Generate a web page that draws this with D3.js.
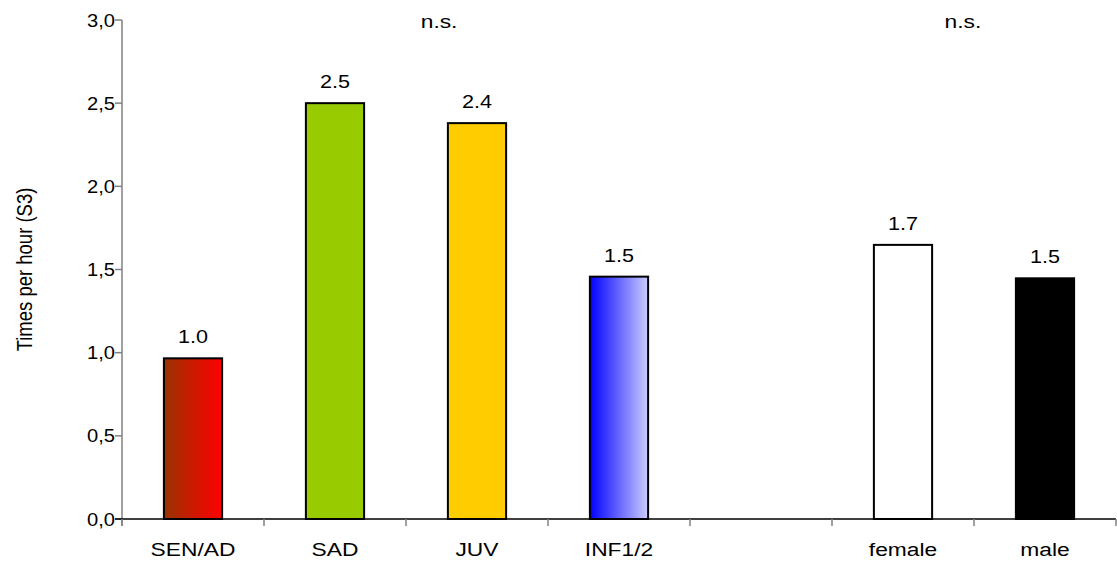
<!DOCTYPE html>
<html>
<head>
<meta charset="utf-8">
<script src="https://cdn.jsdelivr.net/npm/d3@7"></script>
<style>
  html, body { margin: 0; padding: 0; background: #fff; }
  svg { display: block; font-family: "Liberation Sans", Arial, sans-serif; }
</style>
</head>
<body>
<svg id="chart" width="1117" height="562"></svg>
<script>
// ---- data ----
const categories = ["SEN/AD", "SAD", "JUV", "INF1/2", "", "female", "male"];
const values = [0.966, 2.5, 2.38, 1.457, null, 1.648, 1.447];
const valueLabels = ["1.0", "2.5", "2.4", "1.5", "", "1.7", "1.5"];
const yTicks = [0, 0.5, 1.0, 1.5, 2.0, 2.5, 3.0];
const yTickLabels = ["0,0", "0,5", "1,0", "1,5", "2,0", "2,5", "3,0"];
const yTitle = "Times per hour (S3)";
const annotations = ["n.s.", "n.s."];
const annotationPos = [0.319, 0.846]; // fraction of plot width

// ---- layout ----
const svg = d3.select("#chart");
const margin = { left: 122, right: 1, top: 20, bottom: 43 };
const W = 1117, H = 562;
const x0 = margin.left, x1 = W - margin.right;
const y0 = H - margin.bottom, y1 = margin.top;

const x = d3.scaleBand().domain(d3.range(categories.length)).range([x0, x1]).paddingInner(0.59).paddingOuter(0.295);
const xb = d3.scaleBand().domain(d3.range(categories.length)).range([x0, x1]);
const y = d3.scaleLinear().domain([0, 3]).range([y0, y1]);

// gradients
const defs = svg.append("defs");
function grad(id, c0, c1) {
  const g = defs.append("linearGradient").attr("id", id).attr("x1", "0%").attr("x2", "100%").attr("y1", "0%").attr("y2", "0%");
  g.append("stop").attr("offset", "0%").attr("stop-color", c0);
  g.append("stop").attr("offset", "100%").attr("stop-color", c1);
}
grad("gSen", "#993300", "#ff0000");
grad("gInf", "#0000ff", "#ccccff");
const fills = ["url(#gSen)", "#99cc00", "#ffcc00", "url(#gInf)", "none", "#ffffff", "#000000"];

function stretchedText(g, tx, ty, txt, anchor, size, sx) {
  return g.append("g").attr("transform", `translate(${tx},${ty}) scale(${sx},1)`)
    .append("text").attr("text-anchor", anchor).attr("font-size", size).attr("fill", "#000").text(txt);
}

// bars
const barsData = values.map((v, i) => ({ v, i })).filter(d => d.v !== null);
svg.append("g").selectAll("rect").data(barsData).join("rect")
  .attr("x", d => x(d.i))
  .attr("y", d => y(d.v))
  .attr("width", x.bandwidth())
  .attr("height", d => y(0) - y(d.v))
  .attr("fill", d => fills[d.i])
  .attr("stroke", "#000")
  .attr("stroke-width", 2);

// value labels
const lbl = svg.append("g");
barsData.forEach(d => {
  stretchedText(lbl, x(d.i) + x.bandwidth() / 2, y(d.v) - 15, valueLabels[d.i], "middle", 18, 1.2);
});

// y axis
const yAxis = svg.append("g");
yAxis.append("line").attr("x1", x0).attr("x2", x0).attr("y1", y(3)).attr("y2", y0 + 7)
  .attr("stroke", "#808080").attr("stroke-width", 1.5);
yTicks.forEach((t, i) => {
  yAxis.append("line").attr("x1", x0 - 7).attr("x2", x0).attr("y1", y(t)).attr("y2", y(t))
    .attr("stroke", "#808080").attr("stroke-width", 1.5);
  stretchedText(yAxis, x0 - 7, y(t) + 6.5, yTickLabels[i], "end", 18, 1.12);
});

// x axis
const xAxis = svg.append("g");
xAxis.append("line").attr("x1", x0 - 7).attr("x2", x1).attr("y1", y0).attr("y2", y0)
  .attr("stroke", "#000").attr("stroke-width", 1.5);
d3.range(categories.length + 1).forEach(i => {
  const xx = i < categories.length ? xb(i) : x1;
  xAxis.append("line").attr("x1", xx).attr("x2", xx).attr("y1", y0).attr("y2", y0 + 7)
    .attr("stroke", "#808080").attr("stroke-width", 1.5);
});
categories.forEach((c, i) => {
  if (c) stretchedText(xAxis, xb(i) + xb.bandwidth() / 2, y0 + 37, c, "middle", 19, 1.2);
});

// annotations
annotations.forEach((a, i) => {
  stretchedText(svg, x0 + annotationPos[i] * (x1 - x0), y(3) + 8, a, "middle", 19, 1.2);
});

// y title
svg.append("text").attr("transform", `translate(32,${(y0 + y1) / 2}) scale(1.2,1) rotate(-90)`)
  .attr("text-anchor", "middle").attr("font-size", 18.5).attr("fill", "#000").text(yTitle);
</script>
</body>
</html>
